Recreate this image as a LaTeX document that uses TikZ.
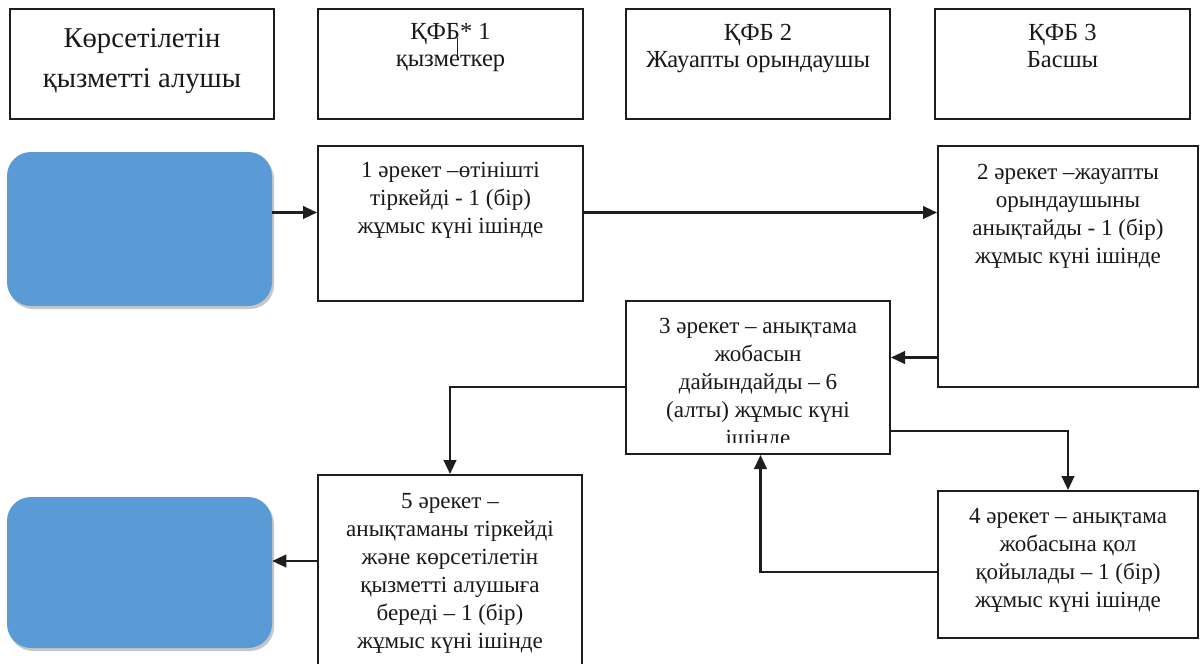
\documentclass[tikz,border=0pt]{standalone}
\usepackage{fontspec}
\setmainfont{Liberation Serif}
\usetikzlibrary{arrows.meta,fit}
\definecolor{bluefill}{HTML}{5B9BD5}
\definecolor{linec}{HTML}{1E1E1E}
\newcommand{\ml}[1]{\parbox[t]{300pt}{\centering #1}}
\begin{document}
\begin{tikzpicture}[x=0.75pt,y=-0.75pt,
 box/.style={draw=linec,line width=1.5pt,inner sep=0pt,fill=white},
 bluebox/.style={fill=bluefill,rounded corners=18pt,inner sep=0pt},
 shade/.style={fill=black!22,rounded corners=18pt,inner sep=0pt},
 txt/.style={anchor=base,inner sep=0pt,text=black!90,font=\fontsize{17.3}{21}\selectfont},
 htxt/.style={anchor=base,inner sep=0pt,text=black!90,font=\fontsize{18.4}{20.25}\selectfont},
 atxt/.style={anchor=base,inner sep=0pt,text=black!90,font=\fontsize{21.5}{30}\selectfont},
 arr/.style={draw=linec,line width=1.6pt,-{Triangle[length=10.5pt,width=9.5pt]}}]
\useasboundingbox (0,0) rectangle (1200,664);
% header row
\node[box, fit={(10,9) (274,119)}] (hA) {};
\node[box, fit={(318,9) (583,119)}] (hB) {};
\node[box, fit={(626,9) (890,119)}] (hC) {};
\node[box, fit={(935,9) (1190,119)}] (hD) {};
\node[atxt] (hAt) at (142,47) {\ml{Көрсетілетін\\қызметті алушы}};
\node[htxt] (hBt) at (450.5,39) {\ml{ҚФБ* 1\\қызметкер}};
\node[htxt] (hCt) at (758,40) {\ml{ҚФБ 2\\Жауапты орындаушы}};
\node[htxt] (hDt) at (1062.5,40) {\ml{ҚФБ 3\\Басшы}};
\draw[linec,line width=1.1pt] (457.3,38) -- (457.3,57);
% blue terminals
\node[shade, fit={(9,155) (274,309)}] (blue1s) {};
\node[bluebox, fit={(7,152) (272,306)}] (blue1) {};
\node[shade, fit={(9,500) (274,651)}] (blue2s) {};
\node[bluebox, fit={(7,497) (272,648)}] (blue2) {};
% process boxes
\node[box, fit={(318,146) (583,301)}] (b1) {};
\node[box, fit={(938,146) (1198,387)}] (b2) {};
\node[box, fit={(626,301) (890,454)}] (b3) {};
\node[box, fit={(938,491) (1198,638)}] (b4) {};
\node[box, fit={(318,475) (582,690)}] (b5) {};
\node[txt] (t1) at (450.5,177.7) {\ml{1 әрекет –өтінішті\\тіркейді - 1 (бір)\\жұмыс күні ішінде}};
\node[txt] (t2) at (1068,179) {\ml{2 әрекет –жауапты\\орындаушыны\\анықтайды - 1 (бір)\\жұмыс күні ішінде}};
\begin{scope}
\clip (627,302) rectangle (889,442);
\node[txt] (t3) at (758,333) {\ml{3 әрекет – анықтама\\жобасын\\дайындайды – 6\\(алты) жұмыс күні\\ішінде}};
\end{scope}
\node[txt] (t4) at (1068,523) {\ml{4 әрекет – анықтама\\жобасына қол\\қойылады – 1 (бір)\\жұмыс күні ішінде}};
\node[txt] (t5) at (450,508) {\ml{5 әрекет –\\анықтаманы тіркейді\\және көрсетілетін\\қызметті алушыға\\береді – 1 (бір)\\жұмыс күні ішінде}};
% connectors
\draw[arr] (blue1.east |- 0,212.5) -- (b1.west |- 0,212.5);
\draw[arr] (b1.east |- 0,212.5) -- (b2.west |- 0,212.5);
\draw[arr] (b2.west |- 0,357.5) -- (b3.east |- 0,357.5);
\draw[arr] (b3.west |- 0,387) -| (b5.north);
\draw[arr] (b3.east |- 0,431) -| (b4.north);
\draw[arr] (b4.west |- 0,572) -| (760.5,0 |- b3.south);
\draw[arr] (b5.west |- 0,561) -- (blue2.east |- 0,561);
\end{tikzpicture}
\end{document}
